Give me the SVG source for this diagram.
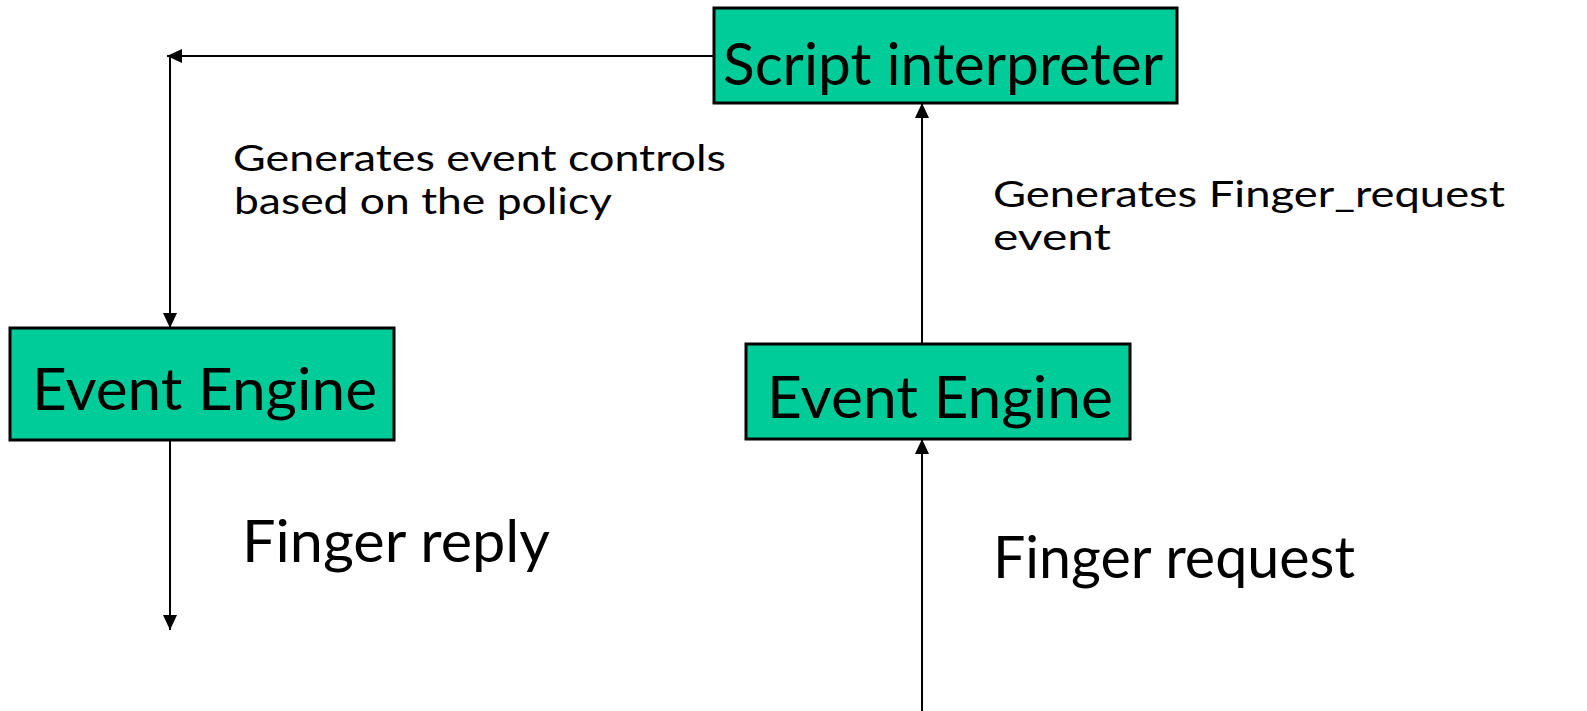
<svg xmlns="http://www.w3.org/2000/svg" width="1587" height="711" viewBox="0 0 1587 711">
<style>
.box{fill:#00CC99;stroke:#000;stroke-width:3}
.t{font-family:Lato,"Open Sans",sans-serif;fill:#000}
.big{font-size:58px}
.lab{font-size:36px}
.line{stroke:#000;stroke-width:2;fill:none}
</style>
<defs>
<marker id="ah" markerUnits="userSpaceOnUse" markerWidth="16" markerHeight="16" viewBox="0 0 16 16" refX="15" refY="8" orient="auto">
<path d="M0,1 L15,8 L0,15 z" fill="#000"/>
</marker>
</defs>
<rect width="1587" height="711" fill="#fff"/>
<g id="connectors">
<line class="line" x1="714" y1="56" x2="167" y2="56" marker-end="url(#ah)"/>
<line class="line" x1="170" y1="56" x2="170" y2="328" marker-end="url(#ah)"/>
<line class="line" x1="170" y1="440" x2="170" y2="630" marker-end="url(#ah)"/>
<line class="line" x1="922" y1="344" x2="922" y2="103" marker-end="url(#ah)"/>
<line class="line" x1="922" y1="711" x2="922" y2="439" marker-end="url(#ah)"/>
</g>
<g id="script-interpreter">
<rect class="box" x="714" y="8" width="463" height="95"/>
<text class="t big" x="723" y="85" textLength="440" lengthAdjust="spacingAndGlyphs">Script interpreter</text>
</g>
<g id="event-engine-left">
<rect class="box" x="10" y="328" width="384" height="112"/>
<text class="t big" x="32" y="410" textLength="345" lengthAdjust="spacingAndGlyphs">Event Engine</text>
</g>
<g id="event-engine-right">
<rect class="box" x="746" y="344" width="384" height="95"/>
<text class="t big" x="767" y="418" textLength="346" lengthAdjust="spacingAndGlyphs">Event Engine</text>
</g>
<g id="labels">
<text class="t lab" x="233" y="171" textLength="493" lengthAdjust="spacingAndGlyphs">Generates event controls</text>
<text class="t lab" x="234" y="214" textLength="378" lengthAdjust="spacingAndGlyphs">based on the policy</text>
<text class="t lab" x="993" y="207" textLength="512" lengthAdjust="spacingAndGlyphs">Generates Finger_request</text>
<text class="t lab" x="993" y="250" textLength="118" lengthAdjust="spacingAndGlyphs">event</text>
<text class="t big" x="242" y="562" textLength="308" lengthAdjust="spacingAndGlyphs">Finger reply</text>
<text class="t big" x="993" y="578" textLength="362" lengthAdjust="spacingAndGlyphs">Finger request</text>
</g>
</svg>
